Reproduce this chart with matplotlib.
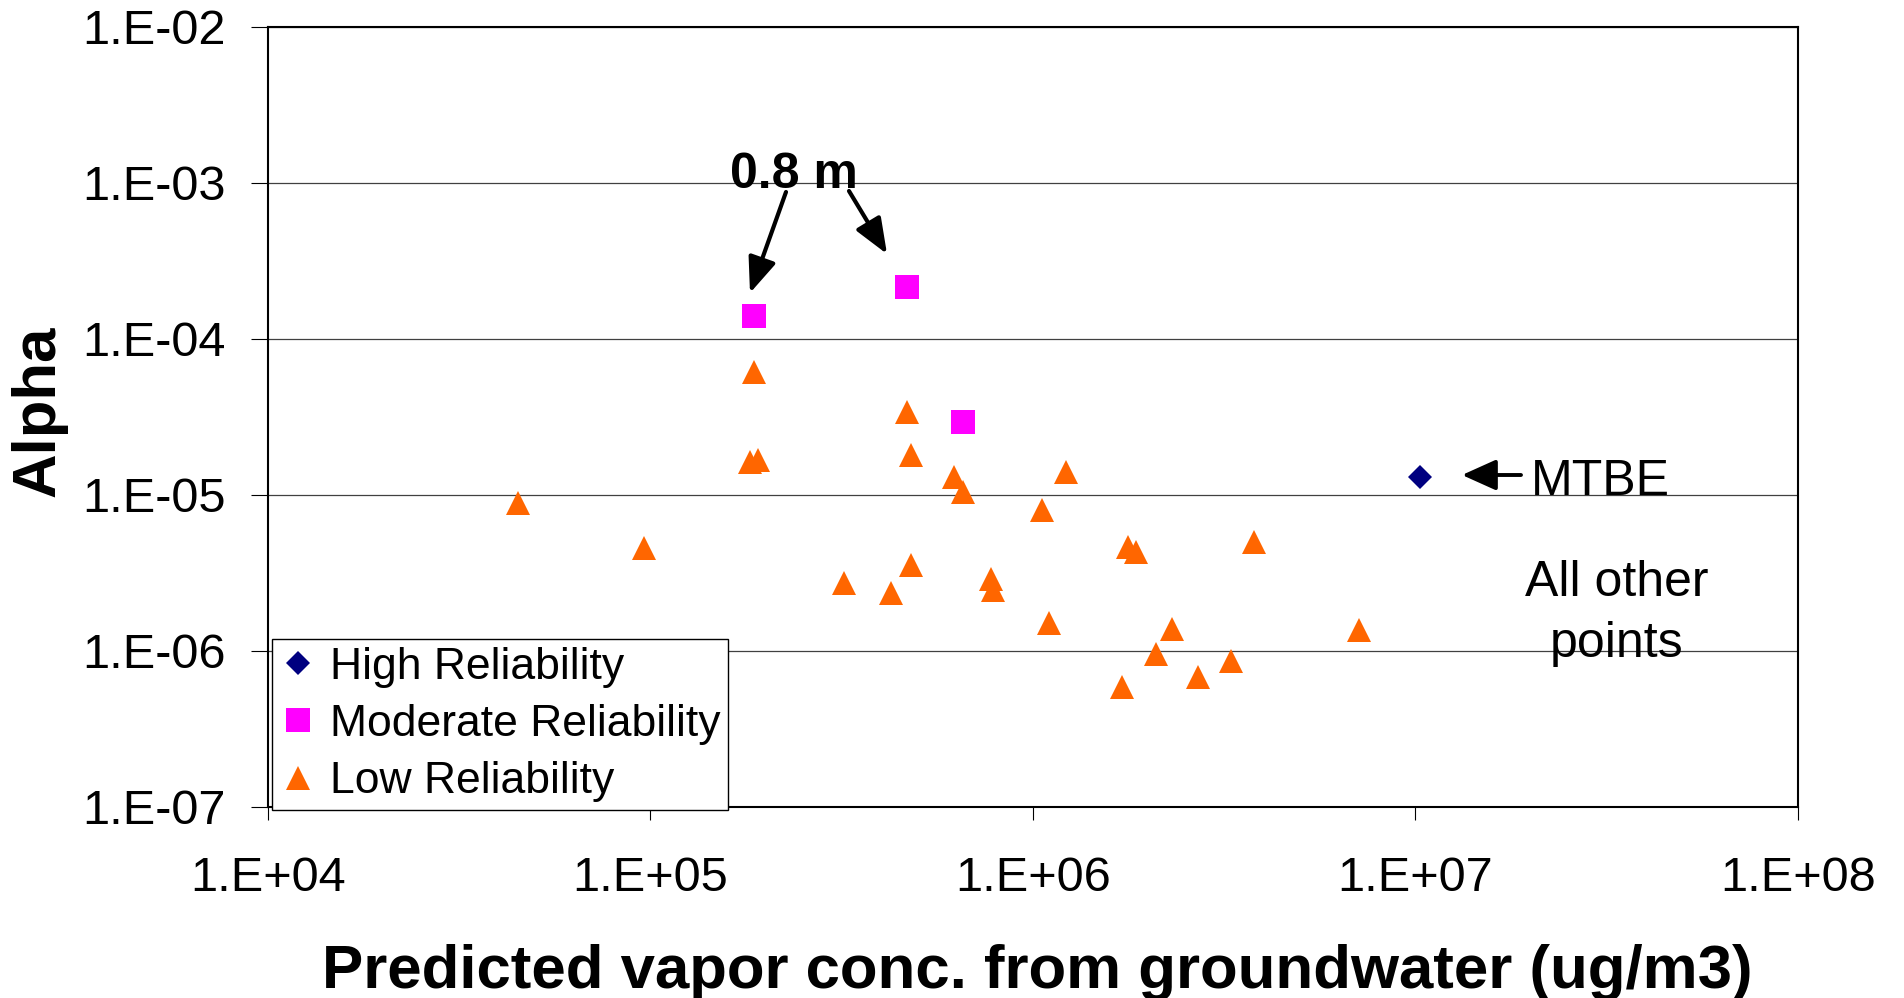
import matplotlib
matplotlib.use("Agg")
import matplotlib.pyplot as plt
from matplotlib.ticker import FixedLocator, FuncFormatter, NullLocator
import numpy as np

plt.rcParams['font.family'] = ['Liberation Sans', 'DejaVu Sans']

# data (log-log)
high_x = [1.03e7]
high_y = [1.29e-5]

mod_x = [1.87e5, 4.69e5, 6.57e5]
mod_y = [1.40e-4, 2.14e-4, 2.91e-5]

low_x = [4.51e4, 9.63e4, 1.82e5, 1.91e5, 1.87e5, 4.81e5, 4.69e5, 6.23e5, 6.58e5,
         1.22e6, 1.06e6, 1.77e6, 1.86e6, 3.78e6, 3.22e5, 4.27e5, 4.81e5, 7.78e5,
         7.87e5, 1.10e6, 2.32e6, 7.12e6, 2.10e6, 3.30e6, 2.71e6, 1.71e6]
low_y = [8.81e-6, 4.53e-6, 1.63e-5, 1.67e-5, 6.09e-5, 1.80e-5, 3.40e-5, 1.29e-5, 1.04e-5,
         1.39e-5, 7.98e-6, 4.64e-6, 4.31e-6, 5.00e-6, 2.70e-6, 2.33e-6, 3.54e-6, 2.87e-6,
         2.45e-6, 1.50e-6, 1.38e-6, 1.36e-6, 9.53e-7, 8.63e-7, 6.81e-7, 5.83e-7]

x_ticks = [1e4, 1e5, 1e6, 1e7, 1e8]
y_ticks = [1e-7, 1e-6, 1e-5, 1e-4, 1e-3, 1e-2]

W, H = 1904, 998


def fpos(x, y):
    # pixel position (from top-left) -> figure fraction
    return (x / W, 1 - y / H)


def sci_label(v, pos):
    return "1.E%+03d" % int(round(np.log10(v)))


fig = plt.figure(figsize=(W / 100, H / 100), dpi=100)
fig.patch.set_facecolor('white')
l, b = fpos(267.7, 806.7)
ax = fig.add_axes([l, b, (1797.7 - 267.7) / W, (806.7 - 26.7) / H])

ax.set_xscale('log')
ax.set_yscale('log')
ax.set_xlim(1e4, 1e8)
ax.set_ylim(1e-7, 1e-2)

ax.plot(high_x, high_y, linestyle='none', marker='D', ms=12.7, mew=0,
        color='#000080', label='High Reliability', zorder=3)
ax.plot(mod_x, mod_y, linestyle='none', marker='s', ms=17, mew=0,
        color='#FF00FF', label='Moderate Reliability', zorder=3)
ax.plot(low_x, low_y, linestyle='none', marker='^', ms=17, mew=0,
        color='#FF6600', label='Low Reliability', zorder=3)

ax.xaxis.set_major_locator(FixedLocator(x_ticks))
ax.yaxis.set_major_locator(FixedLocator(y_ticks))
ax.xaxis.set_minor_locator(NullLocator())
ax.yaxis.set_minor_locator(NullLocator())
ax.xaxis.set_major_formatter(FuncFormatter(sci_label))
ax.yaxis.set_major_formatter(FuncFormatter(sci_label))
ax.tick_params(axis='y', direction='out', length=12, width=0.8, pad=18, labelsize=35)
ax.tick_params(axis='x', direction='out', length=9.5, width=0.8, pad=26, labelsize=35)

ax.yaxis.grid(True, color='#404040', linewidth=0.9)
ax.set_axisbelow(True)
for s in ax.spines.values():
    s.set_color('black')
    s.set_linewidth(1.5)

fig.text(*fpos(1037, 988), 'Predicted vapor conc. from groundwater (ug/m3)',
         fontsize=44.5, fontweight='bold', ha='center', va='baseline')
fig.text(*fpos(39, 411), 'Alpha', fontsize=44.5, fontweight='bold',
         rotation=90, ha='center', va='center')

# annotations
fig.text(*fpos(794, 188), '0.8 m', fontsize=36, fontweight='bold',
         ha='center', va='baseline')
arrow = dict(arrowstyle='-|>,head_length=0.9,head_width=0.36', color='black',
             lw=3, mutation_scale=24, shrinkA=0, shrinkB=0)
ax.annotate('', xy=fpos(750, 293), xycoords='figure fraction',
            xytext=fpos(786, 192), textcoords='figure fraction', arrowprops=arrow)
ax.annotate('', xy=fpos(887, 254), xycoords='figure fraction',
            xytext=fpos(849, 191), textcoords='figure fraction', arrowprops=arrow)

fig.text(*fpos(1531, 495), 'MTBE', fontsize=36, ha='left', va='baseline')
ax.annotate('', xy=fpos(1462, 475), xycoords='figure fraction',
            xytext=fpos(1521, 475), textcoords='figure fraction',
            arrowprops=dict(arrowstyle='-|>,head_length=1.0,head_width=0.45',
                            color='black', lw=2.8, mutation_scale=21,
                            shrinkA=0, shrinkB=0))
fig.text(*fpos(1617, 596), 'All other', fontsize=36, ha='center', va='baseline')
fig.text(*fpos(1617, 657), 'points', fontsize=36, ha='center', va='baseline')

leg = ax.legend(loc='lower left', bbox_to_anchor=fpos(272, 810),
                bbox_transform=fig.transFigure, fontsize=32, frameon=True,
                fancybox=False, framealpha=1, edgecolor='black', borderpad=0.17,
                borderaxespad=0, handlelength=0.85, handletextpad=0.28,
                labelspacing=0.37, numpoints=1)
leg.get_frame().set_linewidth(1.0)

fig.savefig('out.png', dpi=100, facecolor='white')
